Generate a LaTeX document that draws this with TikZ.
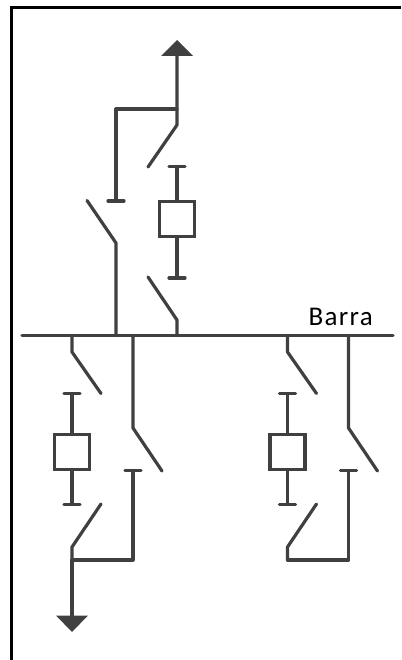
\documentclass[tikz,border=0pt]{standalone}
\usepackage{fontspec}
\setmainfont{Carlito}
\newfontfamily\barrafont[LetterSpace=5]{Carlito}
\usetikzlibrary{positioning}
\definecolor{linegray}{HTML}{404040}
\tikzset{wire/.style={draw=linegray, line width=3.2pt, line join=round, line cap=round}}
\tikzset{breaker/.style={rectangle, draw=linegray, line width=3.2pt, fill=white, minimum width=35pt, minimum height=35pt, inner sep=0pt}}
\begin{document}
\begin{tikzpicture}[x=1pt, y=-1pt]

    \useasboundingbox (0,0) rectangle (401,660);
    \draw[black, line width=3pt] (11.5,660) -- (11.5,7.5) -- (401,7.5);

    % bar
    \coordinate (barL) at (22,335.5);
    \coordinate (barR) at (393,335.5);
    \draw[wire] (barL) -- (barR);
    \node[anchor=base east, inner sep=0pt, font=\barrafont\fontsize{27}{27}\selectfont] (barra) at (373,325.5) {Barra};

    % top bay
    \node[breaker] (bk1) at (177,219) {};
    \coordinate (t1a) at (177,166.5);
    \coordinate (t1b) at (177,278);
    \coordinate (j1) at (177,109);
    \coordinate (up) at (177,52);
    \draw[wire] (t1a) -- (bk1.north);
    \draw[wire] (bk1.south) -- (t1b);
    \draw[wire] (169,166.5) -- (185,166.5);
    \draw[wire] (169,278) -- (185,278);
    \draw[wire] (148,167) -- (177,125) -- (j1) -- (up);
    \fill[linegray] (177,40) -- (193,56) -- (161,56) -- cycle;
    \draw[wire] (j1) -- (116,109) -- (116,201);
    \draw[wire] (108,201) -- (124,201);
    \draw[wire] (87,200.5) -- (116,243) -- (116,335.5);
    \draw[wire] (148,277) -- (177,320) -- (177,335.5);

    % lower bays
    \foreach \dx/\nm in {0/2, 215.5/3} {
      \begin{scope}[xshift=\dx pt]
        \node[breaker] (bk\nm) at (72,452) {};
        \draw[wire] (72,393.5) -- (bk\nm.north);
        \draw[wire] (bk\nm.south) -- (72,504.5);
        \draw[wire] (64,393.5) -- (80,393.5);
        \draw[wire] (64,504.5) -- (80,504.5);
        \draw[wire] (72,335.5) -- (72,352) -- (101,393.5);
        \draw[wire] (133,335.5) -- (133,428) -- (162,471);
        \draw[wire] (125,470.5) -- (141,470.5);
        \draw[wire] (133,470.5) -- (133,560) -- (72,560);
        \draw[wire] (101,504) -- (72,547) -- (72,560);
      \end{scope}
    }
    \draw[wire] (72,560) -- (72,618);
    \fill[linegray] (72,632) -- (88,615.5) -- (56,615.5) -- cycle;

  \end{tikzpicture}
\end{document}
